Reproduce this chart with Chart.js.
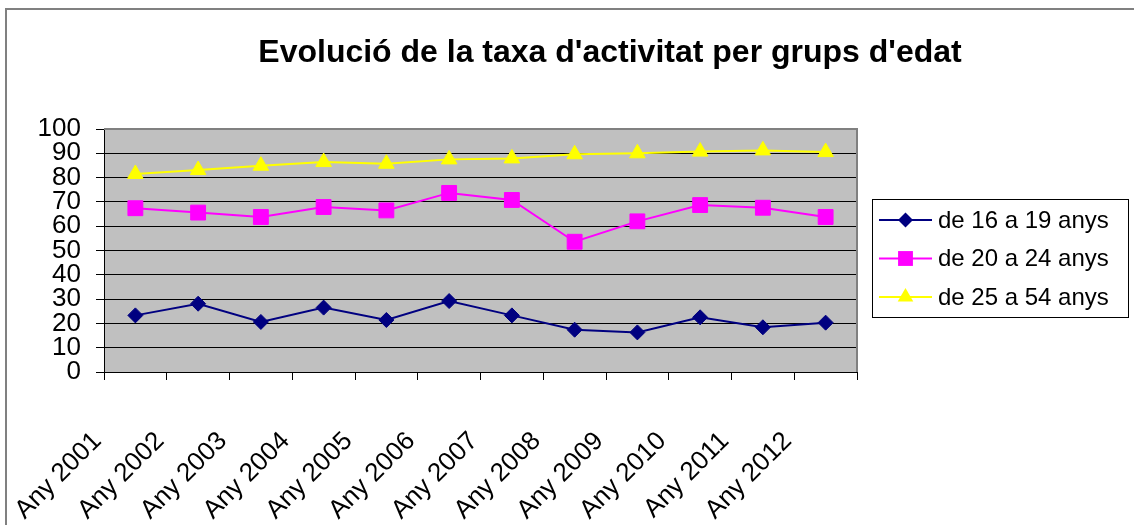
<!DOCTYPE html>
<html>
<head>
<meta charset="utf-8">
<script src="https://cdn.jsdelivr.net/npm/chart.js@4/dist/chart.umd.min.js"></script>
<style>
  html, body { margin: 0; padding: 0; background: #fff; overflow: hidden; }
  #frame { position: absolute; left: 5px; top: 8px; width: 1200px; height: 600px; border: 2px solid #808080; }
  #chart { position: absolute; left: 0; top: 0; }
</style>
</head>
<body>
<div id="frame"></div>
<canvas id="chart" width="1134" height="525"></canvas>
<script>
var titleText = "Evolució de la taxa d'activitat per grups d'edat";
var years = ["Any 2001", "Any 2002", "Any 2003", "Any 2004", "Any 2005", "Any 2006",
             "Any 2007", "Any 2008", "Any 2009", "Any 2010", "Any 2011", "Any 2012"];
var seriesNames = ["de 16 a 19 anys", "de 20 a 24 anys", "de 25 a 54 anys"];
var edat16a19 = [23.3, 28.1, 20.6, 26.5, 21.4, 29.2, 23.3, 17.4, 16.3, 22.5, 18.4, 20.3];
var edat20a24 = [67.4, 65.6, 63.8, 67.9, 66.5, 73.7, 70.8, 53.6, 62.0, 68.7, 67.6, 63.8];
var edat25a54 = [81.5, 83.1, 84.9, 86.4, 85.7, 87.5, 87.9, 89.6, 90.0, 90.7, 91.2, 90.5];

var fontFamily = "'Liberation Sans', Arial, sans-serif";
var colors = ["#000080", "#FF00FF", "#FFFF00"];
var styles = ["rectRot", "rect", "triangle"];
var radii = [7.5, 10.5, 9];

function dataset(i, values) {
    return {
        label: seriesNames[i],
        data: values,
        borderColor: colors[i],
        backgroundColor: colors[i],
        borderWidth: 2,
        pointStyle: styles[i],
        pointRadius: radii[i],
        pointHoverRadius: radii[i],
        pointBorderWidth: 1,
        pointBorderColor: colors[i],
        pointBackgroundColor: colors[i],
        tension: 0
    };
}

// marker drawn by hand for the legend box
function marker(ctx, style, x, y, r) {
    ctx.beginPath();
    if (style === "rectRot") {
        ctx.moveTo(x - r, y); ctx.lineTo(x, y - r); ctx.lineTo(x + r, y); ctx.lineTo(x, y + r);
    } else if (style === "rect") {
        var s = r * Math.SQRT1_2;
        ctx.rect(x - s, y - s, 2 * s, 2 * s);
    } else {
        ctx.moveTo(x, y - r);
        ctx.lineTo(x + 0.866 * r, y + r / 2);
        ctx.lineTo(x - 0.866 * r, y + r / 2);
    }
    ctx.closePath();
    ctx.fill();
}

var excelLook = {
    id: 'excelLook',
    beforeDraw: function (chart) {
        var a = chart.chartArea, ctx = chart.ctx;
        ctx.save();
        ctx.fillStyle = "#C0C0C0";
        ctx.fillRect(a.left, a.top, a.right - a.left, a.bottom - a.top);
        ctx.restore();
    },
    beforeDatasetsDraw: function (chart) {
        var a = chart.chartArea, ctx = chart.ctx;
        ctx.save();
        ctx.strokeStyle = "#808080";
        ctx.lineWidth = 2;
        ctx.beginPath();
        ctx.moveTo(a.left, a.top);
        ctx.lineTo(a.right, a.top);
        ctx.lineTo(a.right, a.bottom);
        ctx.stroke();
        ctx.restore();
    },
    afterDraw: function (chart) {
        var ctx = chart.ctx;
        ctx.save();
        // title
        ctx.fillStyle = "#000";
        ctx.font = "bold 32px " + fontFamily;
        ctx.textAlign = "center";
        ctx.textBaseline = "middle";
        ctx.fillText(titleText, 610, 53);
        // legend
        ctx.strokeStyle = "#000";
        ctx.lineWidth = 1;
        ctx.strokeRect(872.5, 199.5, 256, 118);
        ctx.font = "24px " + fontFamily;
        ctx.textAlign = "left";
        chart.data.datasets.forEach(function (ds, i) {
            var y = 220 + i * 38.5;
            ctx.strokeStyle = ds.borderColor;
            ctx.fillStyle = ds.borderColor;
            ctx.lineWidth = 2;
            ctx.beginPath();
            ctx.moveTo(879, y);
            ctx.lineTo(932, y);
            ctx.stroke();
            marker(ctx, ds.pointStyle, 905.5, y, ds.pointRadius);
            ctx.fillStyle = "#000";
            ctx.fillText(ds.label, 938, y + 1);
        });
        ctx.restore();
    }
};

new Chart(document.getElementById("chart"), {
    type: 'line',
    data: {
        labels: years,
        datasets: [dataset(0, edat16a19), dataset(1, edat20a24), dataset(2, edat25a54)]
    },
    options: {
        responsive: false,
        animation: false,
        layout: {
            padding: { left: 0, top: 129, right: 277, bottom: 0 }
        },
        plugins: {
            legend: { display: false },
            title: { display: false },
            tooltip: { enabled: false }
        },
        scales: {
            x: {
                offset: true,
                grid: {
                    offset: true,
                    drawOnChartArea: false,
                    drawTicks: true,
                    tickLength: 8,
                    color: "#000"
                },
                border: { color: "#000", width: 1 },
                ticks: {
                    color: "#000",
                    font: { family: fontFamily, size: 26 },
                    minRotation: 45,
                    maxRotation: 45,
                    autoSkip: false,
                    padding: 46,
                    labelOffset: -38
                },
                afterFit: function (scale) { scale.height = 153; }
            },
            y: {
                min: 0,
                max: 100,
                ticks: {
                    stepSize: 10,
                    autoSkip: false,
                    color: "#000",
                    font: { family: fontFamily, size: 26 },
                    padding: 15
                },
                grid: {
                    color: "#000",
                    tickLength: 8
                },
                border: { color: "#000", width: 1 },
                afterFit: function (scale) { scale.width = 104; }
            }
        }
    },
    plugins: [excelLook]
});
</script>
</body>
</html>
